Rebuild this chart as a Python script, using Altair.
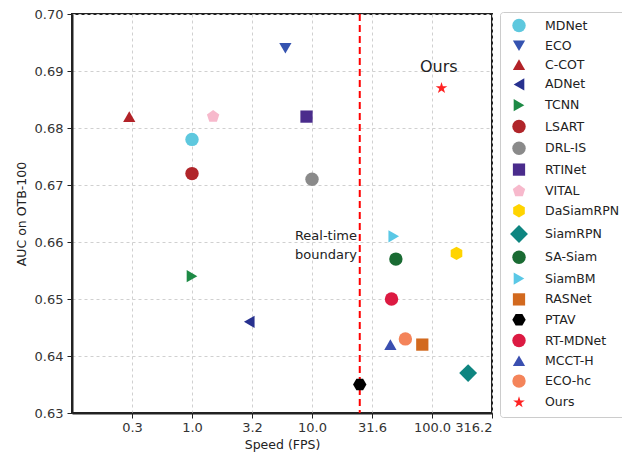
import altair as alt
import pandas as pd

names = ["MDNet", "ECO", "C-COT", "ADNet", "TCNN", "LSART", "DRL-IS", "RTINet", "VITAL",
         "DaSiamRPN", "SiamRPN", "SA-Siam", "SiamBM", "RASNet", "PTAV", "RT-MDNet",
         "MCCT-H", "ECO-hc", "Ours"]
fps = [1.0, 6.0, 0.3, 3.0, 1.0, 1.0, 10.0, 9.0, 1.5,
       160.0, 200.0, 50.0, 48.0, 83.0, 25.0, 46.0,
       45.0, 60.0, 120.0]
auc = [0.678, 0.694, 0.682, 0.646, 0.654, 0.672, 0.671, 0.682, 0.682,
       0.658, 0.637, 0.657, 0.661, 0.642, 0.635, 0.650,
       0.642, 0.643, 0.687]
colors = ["#5ec8de", "#3553b0", "#b22228", "#27318f", "#1d8a45", "#b0252a", "#8a8a8a",
          "#4a2c8c", "#f7b9cc", "#ffd400", "#0e8580", "#1a6b33", "#5ac8e6", "#d2691e",
          "#000000", "#dc1a42", "#3a4fb0", "#f4845a", "#ff2222"]

PENT = "M0,-1L0.951,-0.309L0.588,0.809L-0.588,0.809L-0.951,-0.309Z"
HEX1 = "M0,-1L0.866,-0.5L0.866,0.5L0,1L-0.866,0.5L-0.866,-0.5Z"
HEX2 = "M-1,0L-0.5,-0.866L0.5,-0.866L1,0L0.5,0.866L-0.5,0.866Z"
STAR = ("M0,-1L0.2245,-0.309L0.951,-0.309L0.363,0.118L0.588,0.809L0,0.382"
        "L-0.588,0.809L-0.363,0.118L-0.951,-0.309L-0.2245,-0.309Z")
shapes = ["circle", "triangle-down", "triangle-up", "triangle-left", "triangle-right",
          "circle", "circle", "square", PENT, HEX1, "diamond", "circle",
          "triangle-right", "square", HEX2, "circle", "triangle-up", "circle", STAR]
sizes = [180, 150, 150, 150, 150, 180, 180, 150, 170, 180, 320, 180, 150, 150, 180, 180,
         150, 180, 150]

x_ticks = [0.31623, 1.0, 3.16228, 10.0, 31.6228, 100.0, 316.228]
y_ticks = [0.63, 0.64, 0.65, 0.66, 0.67, 0.68, 0.69, 0.70]
boundary_fps = [25.0]
ann_text = ["Ours", "Real-time", "boundary"]
ann_x = [114.0, 23.7, 23.7]
ann_y = [0.6907, 0.6610, 0.6578]
ann_size = [16, 13, 13]
ann_align = ["center", "right", "right"]

df = pd.DataFrame({"name": names, "fps": fps, "auc": auc})

xscale = alt.Scale(type="log", domain=[0.1, 316.228])
yscale = alt.Scale(domain=[0.63, 0.70])

xaxis = alt.Axis(values=x_ticks, format=".1f", title="Speed (FPS)", grid=True,
                 gridDash=[3, 3], gridColor="#d0d0d0", tickSize=5, labelPadding=3,
                 titlePadding=4)
yaxis = alt.Axis(values=y_ticks, format=".2f", title="AUC on OTB-100", grid=True,
                 gridDash=[3, 3], gridColor="#d0d0d0", tickSize=5, labelPadding=4,
                 titlePadding=6)

points = alt.Chart(df).mark_point(filled=True, opacity=1).encode(
    x=alt.X("fps:Q", scale=xscale, axis=xaxis),
    y=alt.Y("auc:Q", scale=yscale, axis=yaxis),
    color=alt.Color("name:N", scale=alt.Scale(domain=names, range=colors),
                    legend=alt.Legend(title=None, orient="none", legendX=428, legendY=-2,
                                      strokeColor="#cccccc", padding=6, cornerRadius=3,
                                      rowPadding=0.8, symbolOffset=3, labelOffset=16,
                                      labelFontSize=12.5, labelLimit=200,
                                      labelFont="DejaVu Sans", labelColor="#222222",
                                      symbolOpacity=1)),
    shape=alt.Shape("name:N", scale=alt.Scale(domain=names, range=shapes)),
    size=alt.Size("name:N", scale=alt.Scale(type="ordinal", domain=names, range=sizes)),
)

rule = alt.Chart(pd.DataFrame({"b": boundary_fps})).mark_rule(
    color="#ff0000", strokeDash=[7, 4], strokeWidth=2).encode(
    x=alt.X("b:Q", scale=xscale))

ann = pd.DataFrame({"t": ann_text, "x": ann_x, "y": ann_y, "s": ann_size, "a": ann_align})
texts = []
for i in range(len(ann_text)):
    texts.append(alt.Chart(ann.iloc[[i]]).mark_text(
        fontSize=ann_size[i], align=ann_align[i], baseline="middle",
        font="DejaVu Sans", color="#222222").encode(
        x=alt.X("x:Q", scale=xscale), y=alt.Y("y:Q", scale=yscale), text="t:N"))

chart = alt.layer(rule, points, *texts).properties(
    width=420, height=399,
    autosize=alt.AutoSizeParams(type="none"),
    padding={"left": 64, "top": 6, "right": 130, "bottom": 39},
).configure(font="DejaVu Sans").configure_view(
    stroke="#222222", strokeWidth=2
).configure_axis(
    domainColor="#222222", domainWidth=2, tickColor="#222222",
    labelFontSize=13, labelColor="#333333", titleFontSize=12.5,
    titleFontWeight="normal", titleColor="#222222", labelFont="DejaVu Sans",
    titleFont="DejaVu Sans"
)

chart.save("out.html", embed_options={"renderer": "svg", "actions": False})
